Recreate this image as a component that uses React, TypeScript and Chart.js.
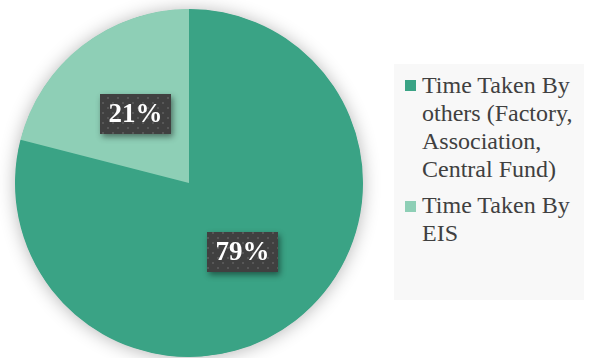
import React, { useEffect, useRef } from "react";
import { Chart, registerables } from "chart.js";

Chart.register(...registerables);

const categories = [
  "Time Taken By others (Factory, Association, Central Fund)",
  "Time Taken By EIS",
];
const values = [79, 21];
const colors = ["#3aa385", "#8ecfb6"];

function makePattern(ctx: CanvasRenderingContext2D) {
  const c = document.createElement("canvas");
  c.width = 10;
  c.height = 10;
  const p = c.getContext("2d")!;
  p.fillStyle = "#404040";
  p.fillRect(0, 0, 10, 10);
  p.fillStyle = "#575757";
  p.fillRect(2, 2, 2, 2);
  p.fillRect(7, 7, 2, 2);
  return ctx.createPattern(c, "repeat")!;
}

const shadowPlugin = {
  id: "pieShadow",
  beforeDatasetsDraw(chart: any) {
    const meta = chart.getDatasetMeta(0);
    const arc = meta.data[0];
    if (!arc) return;
    const { x, y, outerRadius } = arc.getProps(["x", "y", "outerRadius"], true);
    const ctx = chart.ctx;
    ctx.save();
    ctx.shadowColor = "rgba(0,0,0,0.3)";
    ctx.shadowBlur = 18;
    ctx.shadowOffsetX = 0;
    ctx.shadowOffsetY = 1;
    ctx.fillStyle = colors[0];
    ctx.beginPath();
    ctx.arc(x, y, outerRadius - 0.5, 0, Math.PI * 2);
    ctx.fill();
    ctx.restore();
  },
};

const labelPlugin = {
  id: "boxLabels",
  afterDatasetsDraw(chart: any) {
    const ctx = chart.ctx as CanvasRenderingContext2D;
    const meta = chart.getDatasetMeta(0);
    const pattern = makePattern(ctx);
    meta.data.forEach((arc: any, i: number) => {
      const pos = arc.tooltipPosition();
      const text = values[i] + "%";
      const w = 71;
      const h = 40;
      const bx = Math.round(pos.x - w / 2);
      const by = Math.round(pos.y - h / 2);
      ctx.save();
      ctx.shadowColor = "rgba(0,0,0,0.45)";
      ctx.shadowBlur = 6;
      ctx.shadowOffsetX = 2;
      ctx.shadowOffsetY = 3;
      ctx.fillStyle = "#404040";
      ctx.fillRect(bx, by, w, h);
      ctx.restore();
      ctx.save();
      ctx.fillStyle = pattern;
      ctx.fillRect(bx, by, w, h);
      ctx.font = "bold 27px 'Liberation Serif', 'Times New Roman', serif";
      ctx.fillStyle = "#ffffff";
      ctx.textAlign = "center";
      ctx.textBaseline = "middle";
      ctx.fillText(text, bx + w / 2, by + h / 2 + 1);
      ctx.restore();
    });
  },
};

export default function App() {
  const ref = useRef<HTMLCanvasElement>(null);
  useEffect(() => {
    if (!ref.current) return;
    const chart = new Chart(ref.current, {
      type: "pie",
      data: {
        labels: categories,
        datasets: [
          {
            data: values,
            backgroundColor: colors,
            borderWidth: 0,
          },
        ],
      },
      options: {
        animation: false,
        responsive: false,
        layout: { padding: { left: 15, right: 226, top: 9, bottom: 1 } },
        plugins: {
          legend: { display: false },
          tooltip: { enabled: false },
        },
      },
      plugins: [shadowPlugin, labelPlugin],
    });
    return () => chart.destroy();
  }, []);

  const font = "'Liberation Serif', 'Times New Roman', serif";
  const itemStyle: React.CSSProperties = {
    position: "absolute",
    left: 422,
    width: 162,
    fontFamily: font,
    fontSize: 24,
    lineHeight: "28px",
    color: "#404040",
  };
  const sq = (top: number, color: string): React.CSSProperties => ({
    position: "absolute",
    left: 405,
    top,
    width: 11,
    height: 11,
    background: color,
  });

  return (
    <div
      style={{
        position: "fixed",
        left: 0,
        top: 0,
        width: 589,
        height: 358,
        background: "#ffffff",
        overflow: "hidden",
      }}
    >
      <canvas ref={ref} width={589} height={358} style={{ position: "absolute", left: 0, top: 0 }} />
      <div
        style={{
          position: "absolute",
          left: 394,
          top: 64,
          width: 190,
          height: 236,
          background: "#f8f8f8",
        }}
      />
      <div style={sq(80, colors[0])} />
      <div style={{ ...itemStyle, top: 71 }}>{categories[0]}</div>
      <div style={sq(201, colors[1])} />
      <div style={{ ...itemStyle, top: 191 }}>{categories[1]}</div>
    </div>
  );
}
